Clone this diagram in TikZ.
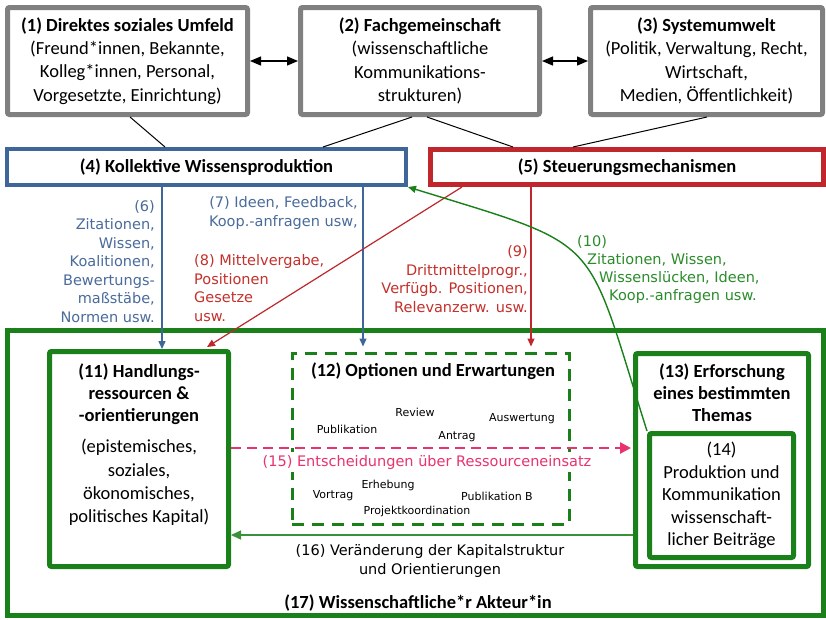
\documentclass[tikz,border=0pt]{standalone}
\usepackage{fontspec}
\setmainfont{Carlito}
\newfontfamily\vfont{DejaVu Sans}
\usetikzlibrary{arrows.meta}

\definecolor{boxgray}{HTML}{808080}
\definecolor{kwblue}{HTML}{3E6699}
\definecolor{kwbluetxt}{HTML}{4A6B9B}
\definecolor{stred}{HTML}{C0272D}
\definecolor{stredtxt}{HTML}{C4302B}
\definecolor{akgreen}{HTML}{19801A}
\definecolor{akgreentxt}{HTML}{2B8C2B}
\definecolor{thingreen}{HTML}{3A913A}
\definecolor{entpink}{HTML}{E8336C}

\begin{document}
\begin{tikzpicture}[x=1pt,y=-1pt,
  boxtext/.style={font=\fontsize{18.5}{23.3}\selectfont, align=center, inner sep=0pt},
  cbox/.style={draw, fill=white, inner sep=0pt, align=center,
               font=\fontsize{18.5}{23.3}\selectfont},
  graybox/.style={cbox, draw=boxgray, line width=5pt, rounded corners=2pt},
  greenbox/.style={cbox, draw=akgreen, line width=5pt, rounded corners=2pt},
  lbl/.style={font=\fontsize{14.5}{18.5}\vfont, inner sep=0pt},
  small/.style={font=\fontsize{11}{13}\vfont, inner sep=0pt},
  tipsmall/.style={-{Triangle[length=8pt,width=7pt]}},
]
\useasboundingbox (0,0) rectangle (826,619);
\fill[white] (0,0) rectangle (826,619);

% --- top row: environments ---
\node[graybox, minimum width=240pt, minimum height=107pt] (b1) at (127.5,61)
  {\textbf{(1) Direktes soziales Umfeld}\\(Freund*innen, Bekannte,\\Kolleg*innen, Personal,\\Vorgesetzte, Einrichtung)};
\node[graybox, minimum width=239pt, minimum height=107pt] (b2) at (420,61)
  {\textbf{(2) Fachgemeinschaft}\\(wissenschaftliche\\Kommunikations-\\strukturen)};
\node[graybox, minimum width=232pt, minimum height=107pt] (b3) at (706.5,61)
  {\textbf{(3) Systemumwelt}\\(Politik, Verwaltung, Recht,\\Wirtschaft,\\Medien, Öffentlichkeit)};

% --- middle row ---
\node[cbox, draw=kwblue, line width=4pt, minimum width=399pt, minimum height=36pt] (b4) at (206.5,167)
  {\textbf{(4) Kollektive Wissensproduktion}};
\node[cbox, draw=stred, line width=5pt, minimum width=393pt, minimum height=35pt] (b5) at (627,167)
  {\textbf{(5) Steuerungsmechanismen}};

% --- actor ---
\node[cbox, draw=akgreen, line width=5pt, minimum width=816pt, minimum height=285pt] (b17) at (415.5,473) {};
\node[boxtext] (t17) at (418,603) {\textbf{(17) Wissenschaftliche*r Akteur*in}};

\node[greenbox, minimum width=179pt, minimum height=215pt] (b11) at (139,459) {};
\node[boxtext, font=\fontsize{18.5}{22}\selectfont] (t11a) at (139,394)
  {\textbf{(11) Handlungs-}\\\textbf{ressourcen \&}\\\textbf{-orientierungen}};
\node[boxtext] (t11b) at (139,482.5)
  {(epistemisches,\\soziales,\\ökonomisches,\\politisches Kapital)};

\node[cbox, draw=akgreen, line width=3pt, dash pattern=on 12pt off 8pt,
      minimum width=277pt, minimum height=171pt] (b12) at (430.5,438.5) {};
\node[boxtext] (t12) at (433,371) {\textbf{(12) Optionen und Erwartungen}};
\node[small] (o1) at (415,412) {Review};
\node[small] (o2) at (347,429) {Publikation};
\node[small] (o3) at (522,419) {Auswertung};
\node[small] (o4) at (457,437) {Antrag};
\node[small] (o5) at (388,485) {Erhebung};
\node[small] (o6) at (333,496) {Vortrag};
\node[small] (o7) at (497,496) {Publikation B};
\node[small] (o8) at (417,511) {Projektkoordination};

\node[greenbox, minimum width=173pt, minimum height=213pt] (b13) at (722,460) {};
\node[boxtext, font=\fontsize{18.5}{22}\selectfont] (t13) at (722,393)
  {\textbf{(13) Erforschung}\\\textbf{eines bestimmten}\\\textbf{Themas}};
\node[greenbox, minimum width=144pt, minimum height=124pt, font=\fontsize{18.5}{22.5}\selectfont] (b14) at (721.5,495.5)
  {(14)\\Produktion und\\Kommunikation\\wissenschaft-\\licher Beiträge};

% --- connections among the top row ---
\draw[line width=1.3pt, {Triangle[length=11pt,width=9pt]}-{Triangle[length=11pt,width=9pt]}]
  (b1.east) -- (b2.west);
\draw[line width=1.3pt, {Triangle[length=11pt,width=9pt]}-{Triangle[length=11pt,width=9pt]}]
  (b2.east) -- (b3.west);
\draw[line width=1pt] ([xshift=2.5pt]b1.south) -- ([xshift=-41.5pt]b4.north);
\draw[line width=1pt] ([xshift=-8pt]b2.south) -- ([xshift=116.5pt]b4.north);
\draw[line width=1pt] ([xshift=7pt]b2.south) -- ([xshift=-114pt]b5.north);
\draw[line width=1pt] ([xshift=0.5pt]b3.south) -- ([xshift=-54pt]b5.north);

% --- flows from collective knowledge production ---
\coordinate (k6) at ([xshift=-44.5pt]b4.south);
\coordinate (k7) at ([xshift=156.5pt]b4.south);
\draw[kwblue, line width=1.4pt, tipsmall] (k6) -- (k6 |- b11.north);
\draw[kwblue, line width=1.4pt, tipsmall, shorten >=5pt] (k7) -- (k7 |- b12.north);

% --- flows from steering mechanisms ---
\coordinate (s8) at ([xshift=-165pt]b5.south);
\coordinate (s9) at ([xshift=-96pt]b5.south);
\draw[stred, line width=1.2pt, tipsmall] (s8) -- ([xshift=-24pt,yshift=2pt]b11.north east);
\draw[stred, line width=1.2pt, tipsmall, shorten >=5pt] (s9) -- (s9 |- b12.north);

% --- feedback into collective knowledge production ---
\draw[akgreen, line width=1.4pt, tipsmall]
  (b14.north west) .. controls (584,232) and (606,248) .. (b4.south east);

% --- decisions and feedback inside the actor ---
\node[lbl, entpink, fill=white, inner xsep=2pt, inner ysep=3pt] (l15) at (427,462)
  {(15) Entscheidungen über Ressourceneinsatz};
\draw[entpink, line width=2.5pt, dash pattern=on 10pt off 6pt,
      -{Triangle[length=11pt,width=11pt]}]
  ([yshift=11pt]b11.east) -- ([yshift=12pt,xshift=-2pt]b13.west);
\coordinate (c16) at ([yshift=-75pt]b13.west);
\draw[thingreen, line width=1.4pt, -{Triangle[length=10pt,width=9pt]}] (c16) -- (c16 -| b11.east);

% --- labels ---
\node[lbl, kwbluetxt, align=right, anchor=east] (l6) at (155,261.5)
  {(6)\\Zitationen,\\Wissen,\\Koalitionen,\\Bewertungs-\\maßstäbe,\\Normen usw.};
\node[lbl, kwbluetxt, align=right, anchor=east] (l7) at (358,213)
  {(7) Ideen, Feedback,\\Koop.-anfragen usw,};
\node[lbl, stredtxt, align=left, anchor=west] (l8) at (194,288)
  {(8) Mittelvergabe,\\Positionen\\Gesetze\\usw.};
\node[lbl, stredtxt, align=right, anchor=east] (l9) at (528,279)
  {(9)\\Drittmittelprogr.,\\Verfügb. Positionen,\\Relevanzerw. usw.};
\node[lbl, akgreentxt, anchor=west] (l10a) at (577,242) {(10)};
\node[lbl, akgreentxt, anchor=west] (l10b) at (587,260) {Zitationen, Wissen,};
\node[lbl, akgreentxt, anchor=west] (l10c) at (599,278) {Wissenslücken, Ideen,};
\node[lbl, akgreentxt, anchor=west] (l10d) at (609,296) {Koop.-anfragen usw.};
\node[lbl, align=center] (l16) at (430,561)
  {(16) Veränderung der Kapitalstruktur\\und Orientierungen};
\end{tikzpicture}
\end{document}
